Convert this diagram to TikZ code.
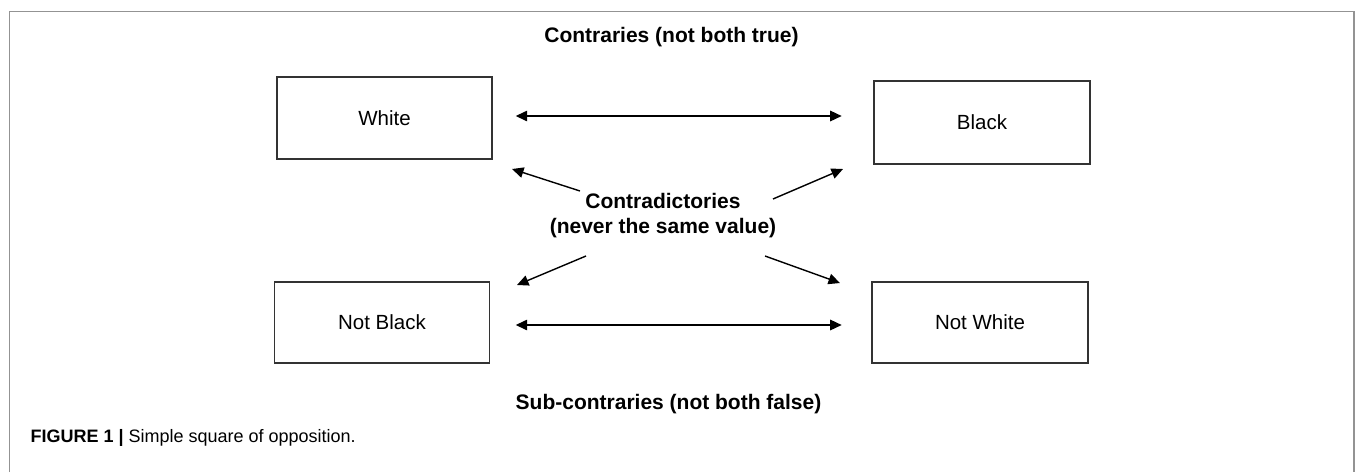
\documentclass[tikz,border=0pt]{standalone}
\usepackage{fontspec}
\setmainfont{Liberation Sans}
\usetikzlibrary{arrows.meta}

\tikzset{
  box/.style={draw, line width=1.9pt, draw=black!80, minimum width=215pt, minimum height=82pt,
    inner sep=0pt, font=\fontsize{20.5}{24}\selectfont},
  head/.style={font=\bfseries\fontsize{21}{25}\selectfont, align=center},
  link/.style={line width=1.4pt, ->},
}

\begin{document}
\begin{tikzpicture}[x=1pt, y=-1pt, >={Triangle[length=11.5pt,width=10.5pt]}]
    \useasboundingbox (0,0) rectangle (1355,472);
    \coordinate (A) at (580,191);
    \coordinate (B) at (512,169);
    \coordinate (C) at (773,199);
    \coordinate (D) at (843,169);
    \coordinate (E) at (586,256);
    \coordinate (F) at (517,285);
    \coordinate (G) at (765,256);
    \coordinate (H) at (840,283);
    \coordinate (I) at (515.7,116);
    \coordinate (J) at (841.7,116);
    \coordinate (K) at (515.7,325);
    \coordinate (L) at (841.7,325);
    % frame, open at the bottom
    \draw [line width=1.3pt, gray!85] (9.5,472) -- (9.5,11.7) -- (1354,11.7) -- (1354,472);
    \node [box] (W)  at (384.5,118.3) {White};
    \node [box, minimum width=216pt, minimum height=83pt] (Bk) at (982,122.5) {Black};
    \node [box, minimum height=81pt] (NB) at (382,322.2) {Not Black};
    \node [box, minimum width=216pt, minimum height=81pt] (NW) at (980,322.5) {Not White};
    \draw [link, <->] (I) -- (J);
    \draw [link, <->] (K) -- (L);
    \draw [link] (A) -- (B);
    \draw [link] (C) -- (D);
    \draw [link] (E) -- (F);
    \draw [link] (G) -- (H);
    \node [head] (T)  at (671.5,37) {Contraries (not both true)};
    \node [head] (M)  at (663,215.5) {Contradictories\\(never the same value)};
    \node [head] (S)  at (668.5,404) {Sub-contraries (not both false)};
    \node [anchor=west, font=\fontsize{18}{22}\selectfont] (cap) at (27,438)
        {\textbf{FIGURE 1 |} Simple square of opposition.};
\end{tikzpicture}
\end{document}
